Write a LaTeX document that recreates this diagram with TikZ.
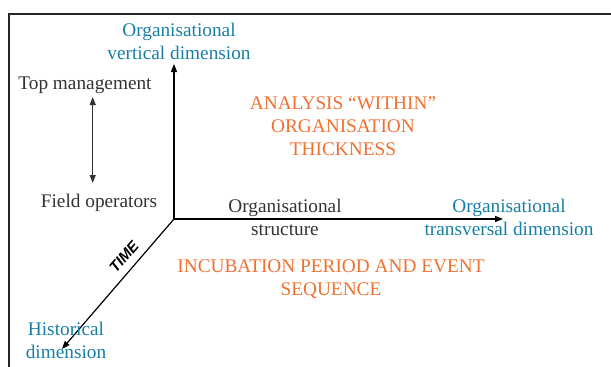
\documentclass[tikz,border=0pt]{standalone}
\usepackage{fontspec}
\setmainfont{Liberation Serif}
\newfontfamily\timefont{Liberation Sans}
\usetikzlibrary{arrows.meta}
\definecolor{dimblue}{HTML}{177FA6}
\definecolor{themeorange}{HTML}{F07030}
\definecolor{labelgray}{HTML}{333333}
\tikzset{
  axis/.style={line width=1.2pt, -{Triangle[length=8pt,width=6pt]}},
  rank/.style={line width=1.3pt, labelgray, {Triangle[length=8pt,width=6pt]}-{Triangle[length=8pt,width=6pt]}},
  lbl/.style={align=center, anchor=base, inner sep=0pt, font=\fontsize{19.3}{23}\selectfont},
  dimlabel/.style={lbl, text=dimblue},
  themelabel/.style={lbl, text=themeorange},
  plainlabel/.style={lbl, text=labelgray},
}
\begin{document}
\begin{tikzpicture}[x=1pt, y=-1pt]
\useasboundingbox (0,0) rectangle (611,367);
% outer frame
\draw[line width=1.5pt, black!85] (9,367) -- (9,14) -- (611,14);

% axes from the common origin
\coordinate (o) at (174,219);
\coordinate (vtip) at (174,64);
\coordinate (htip) at (503,219);
\coordinate (dtip) at (62,349);
\draw[axis] (o) -- (vtip);
\draw[axis] (o) -- (htip);
\draw[axis] (o) -- (dtip);

% axis labels (anchored at the baseline of the last line)
\node[dimlabel] (vert) at (179,59) {Organisational\\vertical dimension};
\node[dimlabel] (trans) at (509,235) {Organisational\\transversal dimension};
\node[dimlabel] (hist) at (66,358) {Historical\\dimension};
\node[plainlabel] (struct) at (285,235) {Organisational\\structure};

% hierarchy range
\node[plainlabel] (top) at (85,89) {Top management};
\node[plainlabel] (field) at (99,207) {Field operators};
\coordinate (rtop) at (92.7,97);
\coordinate (rbot) at (92.7,183);
\draw[rank] (rtop) -- (rbot);

% time tag along the diagonal
\node[font=\timefont\bfseries\itshape\fontsize{15}{15}\selectfont, rotate=49, inner sep=0pt] (time) at (124,257) {TIME};

% analysis themes
\node[themelabel] (within) at (343,155) {ANALYSIS “WITHIN”\\ORGANISATION\\THICKNESS};
\node[themelabel] (incub) at (331,295) {INCUBATION PERIOD AND EVENT\\SEQUENCE};
\end{tikzpicture}
\end{document}
